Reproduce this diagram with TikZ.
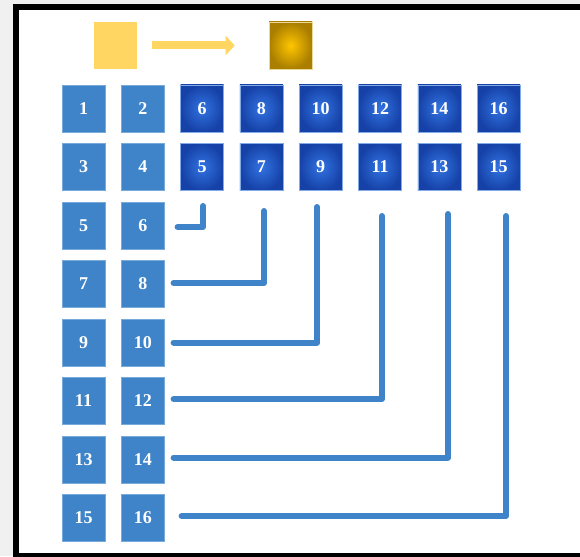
\documentclass[tikz,border=0pt]{standalone}
\usepackage{fontspec}
\setmainfont{Liberation Serif}
\usetikzlibrary{arrows.meta}
\definecolor{lb}{RGB}{63,132,200}
\definecolor{lbedge}{RGB}{120,170,220}
\definecolor{dbout}{RGB}{22,66,168}
\definecolor{dbin}{RGB}{50,115,225}
\definecolor{dbedge}{RGB}{130,170,230}
\definecolor{yel}{RGB}{255,214,98}
\definecolor{goldout}{RGB}{170,126,0}
\definecolor{goldin}{RGB}{255,198,0}
\definecolor{bg}{RGB}{240,240,240}
\tikzset{
  box/.style={minimum width=43pt,minimum height=47pt,inner sep=0pt,
    text=white,font=\fontsize{18}{20}\selectfont\bfseries},
  lbox/.style={box,fill=lb,draw=lbedge,line width=0.6pt},
  dbox/.style={box,inner color=dbin,outer color=dbout,draw=dbedge,line width=0.6pt},
  conn/.style={draw=lb,line width=6pt,line cap=round,line join=round},
}
\begin{document}
\begin{tikzpicture}[x=1pt,y=-1pt]
\useasboundingbox (0,0) rectangle (580,556);
\begin{scope}
\clip (0,0) rectangle (580,556);
\fill[bg] (0,0) rectangle (580,556);
\fill[black] (13,4) rectangle (600,580);
\fill[white] (19,10) rectangle (600,553);
\end{scope}
% legend
\node[minimum width=43pt,minimum height=47pt,inner sep=0pt,fill=yel] (ys) at (115.5,45.5) {};
\node[minimum width=43pt,minimum height=47pt,inner sep=0pt,inner color=goldin,outer color=goldout,draw={rgb,255:red,235;green,215;blue,150},line width=0.6pt] (gs) at (290.5,45.5) {};
\draw[draw=yel,line width=8pt,-{Triangle[length=9pt,width=19pt]}] ([xshift=15pt]ys.east) -- ([xshift=-34pt]gs.west);
% left columns
\foreach \r in {0,...,7}{
  \pgfmathtruncatemacro{\a}{2*\r+1}
  \pgfmathtruncatemacro{\b}{2*\r+2}
  \node[lbox] (L\a) at (83.5,108.5+58.5*\r) {\a};
  \node[lbox] (L\b) at (142.8,108.5+58.5*\r) {\b};
}
% dark columns
\foreach \c in {0,...,5}{
  \pgfmathtruncatemacro{\t}{2*\c+6}
  \pgfmathtruncatemacro{\u}{2*\c+5}
  \node[dbox] (D\t) at (202.1+59.3*\c,108.5) {\t};
  \node[dbox] (D\u) at (202.1+59.3*\c,167) {\u};
}
% connector tops
\coordinate (t6) at (203,206);
\coordinate (t8) at (264,211);
\coordinate (t10) at (317,207);
\coordinate (t12) at (382,216);
\coordinate (t14) at (448,214);
\coordinate (t16) at (506,216);
\draw[conn] ([xshift=13pt,yshift=-1.5pt]L6.east) -| (t6);
\draw[conn] ([xshift=9pt,yshift=1pt]L8.east) -| (t8);
\draw[conn] ([xshift=9pt]L10.east) -| (t10);
\draw[conn] ([xshift=9pt,yshift=2pt]L12.east) -| (t12);
\draw[conn] ([xshift=9pt,yshift=2pt]L14.east) -| (t14);
\draw[conn] ([xshift=17pt,yshift=2pt]L16.east) -| (t16);
\end{tikzpicture}
\end{document}
